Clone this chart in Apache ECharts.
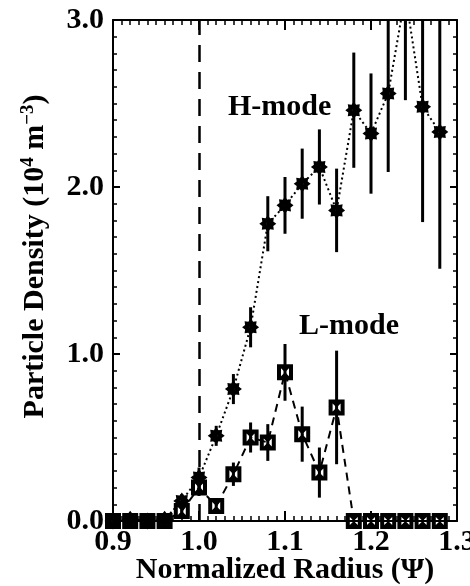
<!DOCTYPE html>
<html>
<head>
<meta charset="utf-8">
<script src="https://cdn.jsdelivr.net/npm/echarts@6/dist/echarts.min.js"></script>
<style>
  html, body { margin: 0; padding: 0; background: #fff; }
</style>
</head>
<body>
<div id="myChart" style="width: 470px; height: 586px;"></div>
<script>
  // radius positions (normalized Psi)
  const radius = [0.90, 0.92, 0.94, 0.96, 0.98, 1.00, 1.02, 1.04, 1.06, 1.08,
                  1.10, 1.12, 1.14, 1.16, 1.18, 1.20, 1.22, 1.24, 1.26, 1.28];
  // H-mode density and error
  const hMode = [0.00, 0.01, 0.00, 0.01, 0.12, 0.26, 0.51, 0.79, 1.16, 1.78,
                 1.89, 2.02, 2.12, 1.86, 2.46, 2.32, 2.56, 3.15, 2.48, 2.33];
  const hErr  = [0.02, 0.02, 0.02, 0.02, 0.04, 0.06, 0.06, 0.09, 0.12, 0.165,
                 0.17, 0.21, 0.225, 0.25, 0.345, 0.36, 0.47, 0.63, 0.69, 0.82];
  // L-mode density and error
  const lMode = [0.00, 0.00, 0.00, 0.00, 0.06, 0.20, 0.09, 0.28, 0.50, 0.47,
                 0.89, 0.52, 0.29, 0.68, 0.00, 0.00, 0.00, 0.00, 0.00, 0.00];
  const lErr  = [0.00, 0.00, 0.00, 0.00, 0.03, 0.05, 0.04, 0.07, 0.09, 0.11,
                 0.17, 0.165, 0.15, 0.34, 0.00, 0.00, 0.00, 0.00, 0.00, 0.00];
  const xTicks = [0.9, 1.0, 1.1, 1.2, 1.3];
  const yTicks = [0.0, 1.0, 2.0, 3.0];
  const separatrix = 1.0;

  const font = "'Liberation Serif', 'Times New Roman', serif";

  // star-like marker for H-mode
  let starPath = 'path://';
  for (let i = 0; i < 16; i++) {
    const r = i % 2 === 0 ? 10 : 7;
    const a = Math.PI / 8 * i - Math.PI / 2;
    starPath += (i === 0 ? 'M' : 'L') + (10 + r * Math.cos(a)).toFixed(2) + ',' + (10 + r * Math.sin(a)).toFixed(2) + ' ';
  }
  starPath += 'Z M8.8,8.8 L8.8,11.2 L11.2,11.2 L11.2,8.8 Z';
  // boxed hourglass marker for L-mode
  const boxPath = 'path://M0,0 L20,0 L20,20 L0,20 Z M5,5 L5,15 L15,15 L15,5 Z M5,5 L15,5 L10,10 Z M5,15 L10,10 L15,15 Z';

  function pairs(v) { return radius.map((x, i) => [x, v[i]]); }
  function bars(v, e) { return radius.map((x, i) => [x, v[i] - e[i], v[i] + e[i]]); }

  function errRender(params, api) {
    const p1 = api.coord([api.value(0), api.value(1)]);
    const p2 = api.coord([api.value(0), api.value(2)]);
    return {
      type: 'line',
      shape: { x1: p1[0], y1: p1[1], x2: p2[0], y2: p2[1] },
      style: { stroke: '#000', lineWidth: 3 }
    };
  }

  const labelStyle = { color: '#000', fontFamily: font, fontWeight: 'bold', fontSize: 30 };

  function xAx(pos, show) {
    return {
      type: 'value', position: pos, min: xTicks[0], max: xTicks[xTicks.length - 1], interval: 0.1,
      axisLine: { show: true, onZero: false, lineStyle: { color: '#000', width: 2 } },
      axisTick: { show: true, inside: true, length: 10, lineStyle: { color: '#000', width: 2 } },
      minorTick: { show: true, splitNumber: 10, length: 5, lineStyle: { color: '#000', width: 1.5 } },
      splitLine: { show: false },
      axisLabel: Object.assign({ show: show, margin: 6, formatter: v => v.toFixed(1) }, labelStyle),
      name: show ? 'Normalized Radius (\u03A8)' : '',
      nameLocation: 'middle', nameGap: 34, nameMoveOverlap: false,
      nameTextStyle: labelStyle
    };
  }
  function yAx(pos, show) {
    return {
      type: 'value', position: pos, min: yTicks[0], max: yTicks[yTicks.length - 1], interval: 1,
      axisLine: { show: true, onZero: false, lineStyle: { color: '#000', width: 2 } },
      axisTick: { show: true, inside: true, length: 7, lineStyle: { color: '#000', width: 2 } },
      minorTick: { show: true, splitNumber: 10, length: 4, lineStyle: { color: '#000', width: 1.5 } },
      splitLine: { show: false },
      axisLabel: Object.assign({ show: show, margin: 9, formatter: v => v.toFixed(1) }, labelStyle),
      name: show ? 'Particle Density (10{sup|4} m{sup|\u22123})' : '',
      nameLocation: 'middle', nameGap: 62, nameRotate: 90,
      nameTextStyle: Object.assign({
        lineHeight: 32,
        padding: [0, 0, 0, 28],
        rich: {
          sup: { fontFamily: font, fontWeight: 'bold', fontSize: 19, color: '#000', verticalAlign: 'top', lineHeight: 32 }
        }
      }, labelStyle)
    };
  }

  const myChart = echarts.init(document.getElementById('myChart'), null, { renderer: 'canvas' });
  myChart.setOption({
    animation: false,
    backgroundColor: '#fff',
    grid: { left: 113, right: 13, top: 20, bottom: 65, containLabel: false, outerBoundsMode: 'none' },
    xAxis: [xAx('bottom', true), xAx('top', false)],
    yAxis: [yAx('left', true), yAx('right', false)],
    graphic: [
      { type: 'text', left: 228, top: 92, style: { text: 'H-mode', fill: '#000', font: 'bold 30px ' + font } },
      { type: 'text', left: 299, top: 311, style: { text: 'L-mode', fill: '#000', font: 'bold 30px ' + font } }
    ],
    series: [
      {
        type: 'line', data: [], silent: true,
        markLine: {
          silent: true, symbol: ['none', 'none'], label: { show: false },
          lineStyle: { color: '#000', width: 2.5, type: [17, 10] },
          data: [{ xAxis: separatrix }]
        }
      },
      { type: 'custom', name: 'H err', renderItem: errRender, data: bars(hMode, hErr), clip: true, z: 2 },
      { type: 'custom', name: 'L err', renderItem: errRender, data: bars(lMode, lErr), clip: true, z: 2 },
      {
        type: 'line', name: 'H-mode', data: pairs(hMode), clip: true, z: 3,
        symbol: starPath, symbolSize: 17, showAllSymbol: true,
        itemStyle: { color: '#000' },
        lineStyle: { color: '#000', width: 2, type: [2, 3] }
      },
      {
        type: 'line', name: 'L-mode', data: pairs(lMode), clip: true, z: 3,
        symbol: boxPath, symbolSize: 16, showAllSymbol: true,
        itemStyle: { color: '#000' },
        lineStyle: { color: '#000', width: 2, type: [8, 6] }
      }
    ]
  });
</script>
</body>
</html>
